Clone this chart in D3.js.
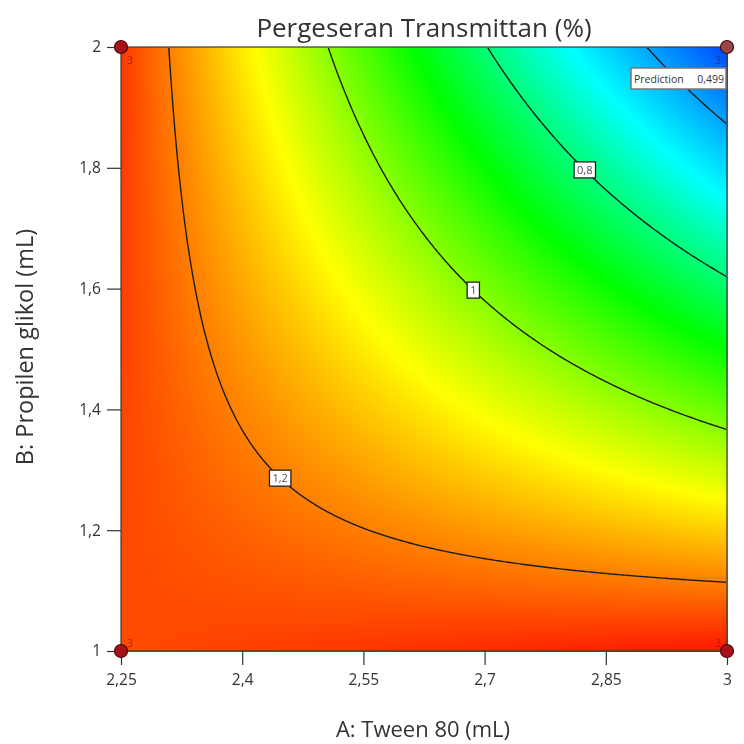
<!DOCTYPE html>
<html>
<head>
<meta charset="utf-8">
<script src="https://cdn.jsdelivr.net/npm/d3@7"></script>
<style>
  html, body { margin: 0; padding: 0; background: #fff; }
  #wrap { position: relative; width: 744px; height: 744px; }
  #wrap canvas, #wrap svg { position: absolute; left: 0; top: 0; }
  text { font-family: "Open Sans", "Noto Sans", sans-serif; }
</style>
</head>
<body>
<div id="wrap"></div>
<script>
// Factor ranges and axis ticks
const factorA = [2.25, 3];          // A: Tween 80 (mL)
const factorB = [1, 2];             // B: Propilen glikol (mL)
const xTicks = [2.25, 2.4, 2.55, 2.7, 2.85, 3];
const yTicks = [1, 1.2, 1.4, 1.6, 1.8, 2];

// Factorial design points (corners), replicate counts and mean responses
const pointA = [2.25, 3, 2.25, 3];
const pointB = [1, 1, 2, 2];
const pointReps = [3, 3, 3, 3];
const pointResponse = [1.244, 1.29, 1.26, 0.499];

// Contour levels, and the ones carrying a label (with the A value where the label sits)
const contourLevels = [0.6, 0.8, 1, 1.2];
const labelLevels = [1.2, 1, 0.8];
const labelAtA = [2.447, 2.686, 2.824];

// Flagged prediction
const predA = 3, predB = 2, predValue = 0.499;

const W = 744, H = 744;
const pL = 121, pR = 727, pT = 47, pB = 651;

const x = d3.scaleLinear().domain(factorA).range([pL, pR]);
const y = d3.scaleLinear().domain(factorB).range([pB, pT]);

const locale = d3.formatLocale({decimal: ",", thousands: ".", grouping: [3], currency: ["", ""]});
const fmtTick = locale.format("~g");
const fmtPred = locale.format(".3f");

// 2FI (A, B, AB) model through the four factorial corner means
const cornerVal = (a, b) => pointResponse[pointA.findIndex((v, i) => v === a && pointB[i] === b)];
const p00 = cornerVal(factorA[0], factorB[0]);
const p10 = cornerVal(factorA[1], factorB[0]);
const p01 = cornerVal(factorA[0], factorB[1]);
const p11 = cornerVal(factorA[1], factorB[1]);
function model(a, b) {
  const t = (a - factorA[0]) / (factorA[1] - factorA[0]);
  const u = (b - factorB[0]) / (factorB[1] - factorB[0]);
  return p00 * (1 - t) * (1 - u) + p10 * t * (1 - u) + p01 * (1 - t) * u + p11 * t * u;
}
// B on a contour of level L at a given A (model is linear in B for fixed A)
function bOnLevel(L, a) {
  const t = (a - factorA[0]) / (factorA[1] - factorA[0]);
  const c0 = p00 * (1 - t) + p10 * t;
  const c1 = p01 * (1 - t) + p11 * t;
  const u = (L - c0) / (c1 - c0);
  return factorB[0] + u * (factorB[1] - factorB[0]);
}

// Rainbow colour ramp from the lowest to the highest design response
const rMin = d3.min(pointResponse), rMax = d3.max(pointResponse);
const color = d3.scaleLinear()
  .domain(d3.range(5).map(i => rMin + i * (rMax - rMin) / 4))
  .range(["#0046ff", "#00ffff", "#00ff00", "#ffff00", "#ff1400"])
  .clamp(true);

const wrap = d3.select("#wrap");

// Filled surface on a canvas
const canvas = wrap.append("canvas").attr("width", W).attr("height", H).node();
const ctx = canvas.getContext("2d");
const img = ctx.createImageData(pR - pL + 1, pB - pT + 1);
for (let py = pT; py <= pB; py++) {
  const b = y.invert(py);
  for (let px = pL; px <= pR; px++) {
    const c = d3.rgb(color(model(x.invert(px), b)));
    const k = ((py - pT) * (pR - pL + 1) + (px - pL)) * 4;
    img.data[k] = c.r; img.data[k + 1] = c.g; img.data[k + 2] = c.b; img.data[k + 3] = 255;
  }
}
ctx.putImageData(img, pL, pT);

const svg = wrap.append("svg").attr("width", W).attr("height", H);

// Contour lines from a sampled grid
const n = 300, m = 300;
const grid = new Float64Array(n * m);
for (let j = 0; j < m; j++) {
  const b = y.invert(pT + (j + 0.5) * (pB - pT) / m);
  for (let i = 0; i < n; i++) {
    grid[j * n + i] = model(x.invert(pL + (i + 0.5) * (pR - pL) / n), b);
  }
}
const contours = d3.contours().size([n, m]).thresholds(contourLevels)(grid);
const proj = d3.geoTransform({
  point(cx, cy) { this.stream.point(pL + cx * (pR - pL) / n, pT + cy * (pB - pT) / m); }
});
const path = d3.geoPath(proj);

svg.append("clipPath").attr("id", "plotclip")
  .append("rect").attr("x", pL + 1).attr("y", pT + 1)
  .attr("width", pR - pL - 2).attr("height", pB - pT - 2);

svg.append("g").attr("clip-path", "url(#plotclip)")
  .selectAll("path").data(contours).join("path")
  .attr("d", path)
  .attr("fill", "none")
  .attr("stroke", "#1c1c1c")
  .attr("stroke-width", 1.4);

// Frame
svg.append("rect")
  .attr("x", pL).attr("y", pT)
  .attr("width", pR - pL).attr("height", pB - pT)
  .attr("fill", "none").attr("stroke", "#3a3a3a").attr("stroke-width", 1.2);

// Contour labels
const labels = svg.append("g").selectAll("g")
  .data(labelLevels.map((L, i) => ({L, a: labelAtA[i], b: bOnLevel(L, labelAtA[i])})))
  .join("g")
  .attr("transform", d => `translate(${x(d.a)},${y(d.b)})`);
labels.append("text")
  .attr("text-anchor", "middle").attr("dy", "0.36em")
  .attr("font-size", 11).attr("fill", "#4a4a5a")
  .text(d => fmtTick(d.L))
  .each(function () {
    const bb = this.getBBox();
    d3.select(this.parentNode).insert("rect", "text")
      .attr("x", bb.x - 3).attr("y", -8)
      .attr("width", bb.width + 6).attr("height", 16)
      .attr("fill", "#fff").attr("stroke", "#222").attr("stroke-width", 1.3);
  });

// Axes
const xAxis = svg.append("g").attr("transform", `translate(0,${pB})`)
  .call(d3.axisBottom(x).tickValues(xTicks).tickFormat(fmtTick).tickSize(14).tickPadding(9));
const yAxis = svg.append("g").attr("transform", `translate(${pL},0)`)
  .call(d3.axisLeft(y).tickValues(yTicks).tickFormat(fmtTick).tickSize(14).tickPadding(6));
[xAxis, yAxis].forEach(g => {
  g.select(".domain").remove();
  g.selectAll(".tick line").attr("stroke", "#333").attr("stroke-width", 1.2);
  g.selectAll(".tick text").attr("font-size", 15.5).attr("fill", "#333")
    .attr("font-family", "'Open Sans', 'Noto Sans', sans-serif");
});

// Design points with replicate counts
const pts = svg.append("g").selectAll("g")
  .data(pointA.map((a, i) => ({a, b: pointB[i], reps: pointReps[i]})))
  .join("g");
pts.append("text")
  .attr("x", d => x(d.a) + (d.a === factorA[0] ? 6 : -6))
  .attr("y", d => y(d.b) + (d.b === factorB[1] ? 17 : -4))
  .attr("text-anchor", d => d.a === factorA[0] ? "start" : "end")
  .attr("font-size", 10.5)
  .attr("fill", d => (d.a === predA && d.b === predB) ? "#1d2f7a" : "#9b1c16")
  .attr("fill-opacity", 0.85)
  .text(d => d.reps);
pts.append("circle")
  .attr("cx", d => x(d.a)).attr("cy", d => y(d.b)).attr("r", 6.5)
  .attr("fill", d => (d.a === predA && d.b === predB) ? "#9a4646" : "#a8101c")
  .attr("stroke", "#4a0a0a").attr("stroke-width", 1.2);

// Prediction flag
const flag = svg.append("g").attr("transform", `translate(${x(predA) - 96},${y(predB) + 21})`);
flag.append("rect").attr("width", 95).attr("height", 21)
  .attr("fill", "#fff").attr("stroke", "#777").attr("stroke-width", 1.5);
flag.append("text").attr("x", 3).attr("y", 14.5).attr("font-size", 10.5).attr("fill", "#333")
  .text("Prediction");
flag.append("text").attr("x", 93).attr("y", 14.5).attr("font-size", 10.5).attr("fill", "#333")
  .attr("text-anchor", "end").text(fmtPred(predValue));

// Titles
svg.append("text").attr("x", 424).attr("y", 37)
  .attr("text-anchor", "middle").attr("font-size", 26).attr("fill", "#333")
  .text("Pergeseran Transmittan (%)");
svg.append("text").attr("x", 423).attr("y", 737)
  .attr("text-anchor", "middle").attr("font-size", 22).attr("fill", "#333")
  .text("A: Tween 80 (mL)");
svg.append("text").attr("transform", "translate(33,347) rotate(-90)")
  .attr("text-anchor", "middle").attr("font-size", 23.5).attr("fill", "#333")
  .text("B: Propilen glikol (mL)");
</script>
</body>
</html>
